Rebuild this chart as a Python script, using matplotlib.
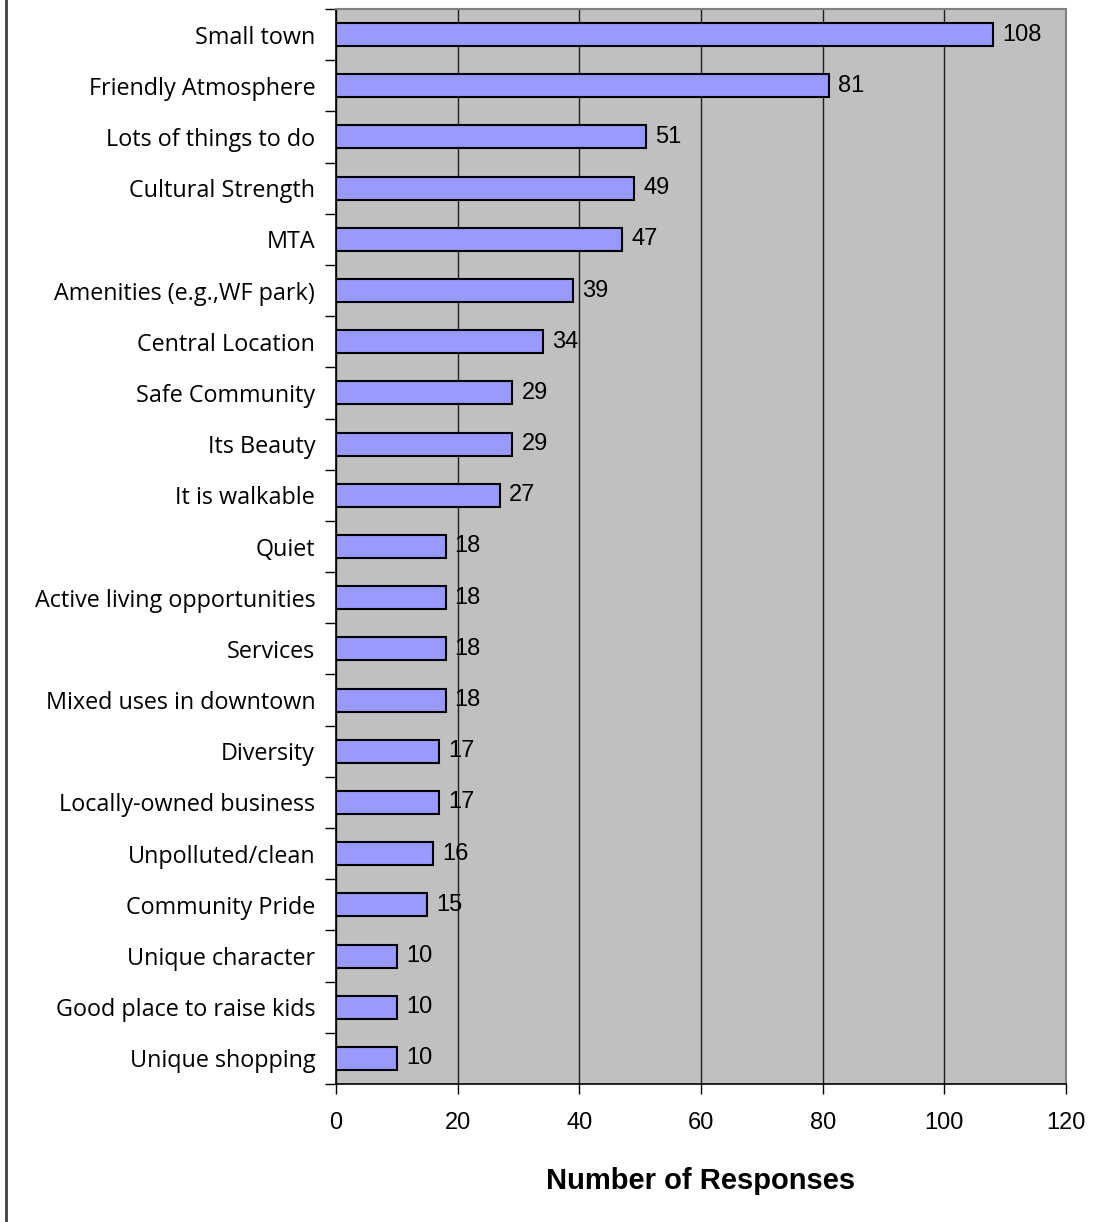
import matplotlib
matplotlib.use("Agg")
import matplotlib.pyplot as plt
from matplotlib.lines import Line2D

categories = [
    "Small town", "Friendly Atmosphere", "Lots of things to do", "Cultural Strength",
    "MTA", "Amenities (e.g.,WF park)", "Central Location", "Safe Community",
    "Its Beauty", "It is walkable", "Quiet", "Active living opportunities",
    "Services", "Mixed uses in downtown", "Diversity", "Locally-owned business",
    "Unpolluted/clean", "Community Pride", "Unique character",
    "Good place to raise kids", "Unique shopping",
]
responses = [108, 81, 51, 49, 47, 39, 34, 29, 29, 27, 18, 18, 18, 18, 17, 17, 16, 15, 10, 10, 10]
x_ticks = [0, 20, 40, 60, 80, 100, 120]

fig = plt.figure(figsize=(10.99, 12.22), dpi=100)
ax = fig.add_axes([336 / 1099, 1 - 1084 / 1222, (1066 - 336) / 1099, (1084 - 9) / 1222])
ax.set_facecolor("#C0C0C0")

n = len(categories)
ypos = list(range(n))
ax.barh(ypos, responses, height=0.45, color="#9999FF", edgecolor="black", linewidth=1.5, zorder=3)

for y, v in zip(ypos, responses):
    ax.text(v + 1.5, y, str(v), va="center", ha="left",
            fontsize=17, family="Liberation Sans", color="black", zorder=4)

ax.set_xlim(0, 120)
ax.set_ylim(n - 0.5, -0.5)
ax.set_xticks(x_ticks)
ax.set_xticklabels([str(t) for t in x_ticks], fontsize=17, family="Liberation Sans")
ax.tick_params(axis="x", direction="out", length=7, width=1, pad=13)

ax.set_yticks(ypos)
ax.set_yticklabels(categories, fontsize=16.8, family="Open Sans")
ax.tick_params(axis="y", which="major", length=0, pad=15)
ax.set_yticks([i - 0.5 for i in range(n + 1)], minor=True)
ax.tick_params(axis="y", which="minor", direction="out", length=8, width=1)

ax.grid(axis="x", color="#202020", linewidth=1, zorder=1)
ax.set_axisbelow(True)

for side in ("top", "right"):
    ax.spines[side].set_color("#808080")
    ax.spines[side].set_linewidth(1.5)
for side in ("left", "bottom"):
    ax.spines[side].set_color("black")
    ax.spines[side].set_linewidth(1.2)

ax.set_xlabel("Number of Responses", fontsize=21, fontweight="bold",
              family="Liberation Sans", labelpad=24)

fig.add_artist(Line2D([5.5 / 1099, 5.5 / 1099], [0, 1], transform=fig.transFigure,
                      color="#404040", linewidth=2))

fig.savefig("out.png", dpi=100, facecolor="white")
